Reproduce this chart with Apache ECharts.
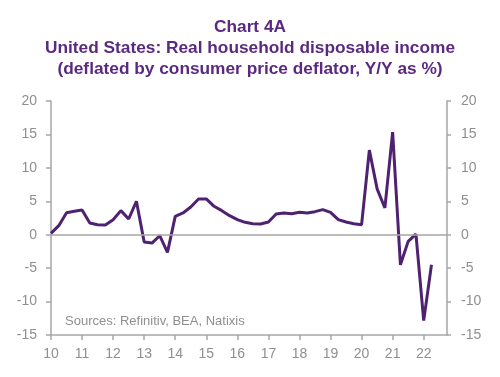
<!DOCTYPE html>
<html>
<head>
<meta charset="utf-8">
<script src="https://cdn.jsdelivr.net/npm/echarts@6/dist/echarts.min.js"></script>
<style>
  html, body { margin: 0; padding: 0; background: #fff; }
  #main { width: 500px; height: 377px; }
</style>
</head>
<body>
<div id="main"></div>
<script>
var myChart = echarts.init(document.getElementById('main'));

// quarters 2010Q1 .. 2022Q4 (last two quarters have no data yet)
var years = [2010, 2011, 2012, 2013, 2014, 2015, 2016, 2017, 2018, 2019, 2020, 2021, 2022];
var quarters = [];
years.forEach(function (y) {
    for (var q = 1; q <= 4; q++) quarters.push(y + 'Q' + q);
});

// Real household disposable income, Y/Y %
var income = [
    0.2, 1.35, 3.3, 3.5,
    3.7, 1.75, 1.5, 1.45,
    2.25, 3.6, 2.35, 5.0,
    -1.1, -1.25, -0.15, -2.65,
    2.75, 3.25, 4.15, 5.35,
    5.35, 4.25, 3.6, 2.85,
    2.25, 1.85, 1.65, 1.6,
    1.9, 3.1, 3.25, 3.15,
    3.35, 3.25, 3.45, 3.75,
    3.35, 2.25, 1.9, 1.65,
    1.5, 12.65, 6.85, 4.0,
    15.35, -4.5, -1.0, 0.1,
    -12.85, -4.5, null, null
];

var axisGrey = '#a6a6a6';
var labelGrey = '#8f8f8f';

function yAxisOf(pos) {
    return {
        type: 'value',
        position: pos,
        min: -15,
        max: 20,
        interval: 5,
        axisLine: { show: true, lineStyle: { color: axisGrey, width: 1.5 } },
        axisTick: { show: true, length: pos === 'left' ? 5 : 4, lineStyle: { color: axisGrey, width: 1.5 } },
        axisLabel: { color: labelGrey, fontSize: 14, fontFamily: 'Liberation Sans', margin: 14 },
        splitLine: { show: false }
    };
}

option = {
    title: {
        text: 'Chart 4A\nUnited States: Real household disposable income\n(deflated by consumer price deflator, Y/Y as %)',
        left: 'center',
        top: 12,
        textStyle: {
            color: '#5b2a80',
            fontSize: 17.3,
            fontWeight: 'bold',
            fontFamily: 'Liberation Sans',
            lineHeight: 21
        }
    },
    grid: { left: 51, right: 53, top: 101, bottom: 42 },
    xAxis: {
        type: 'category',
        data: quarters,
        boundaryGap: false,
        axisLine: { onZero: false, lineStyle: { color: axisGrey, width: 1.5 } },
        axisTick: { show: true, interval: 3, length: 5, lineStyle: { color: axisGrey, width: 1.5 } },
        axisLabel: {
            interval: 3,
            color: labelGrey,
            fontSize: 14,
            fontFamily: 'Liberation Sans',
            margin: 12,
            formatter: function (v) { return v.substr(2, 2); }
        }
    },
    yAxis: [yAxisOf('left'), yAxisOf('right')],
    graphic: [{
        type: 'text',
        left: 65,
        top: 315,
        style: {
            text: 'Sources: Refinitiv, BEA, Natixis',
            fill: labelGrey,
            fontSize: 13,
            fontFamily: 'Liberation Sans'
        }
    }],
    series: [{
        name: 'income',
        type: 'line',
        data: income,
        showSymbol: false,
        lineStyle: { color: '#4e2270', width: 3 },
        itemStyle: { color: '#4e2270' },
        markLine: {
            silent: true,
            symbol: 'none',
            label: { show: false },
            lineStyle: { color: axisGrey, type: 'solid', width: 1.5 },
            data: [{ yAxis: 0 }]
        },
        z: 3
    }]
};

myChart.setOption(option);
</script>
</body>
</html>
